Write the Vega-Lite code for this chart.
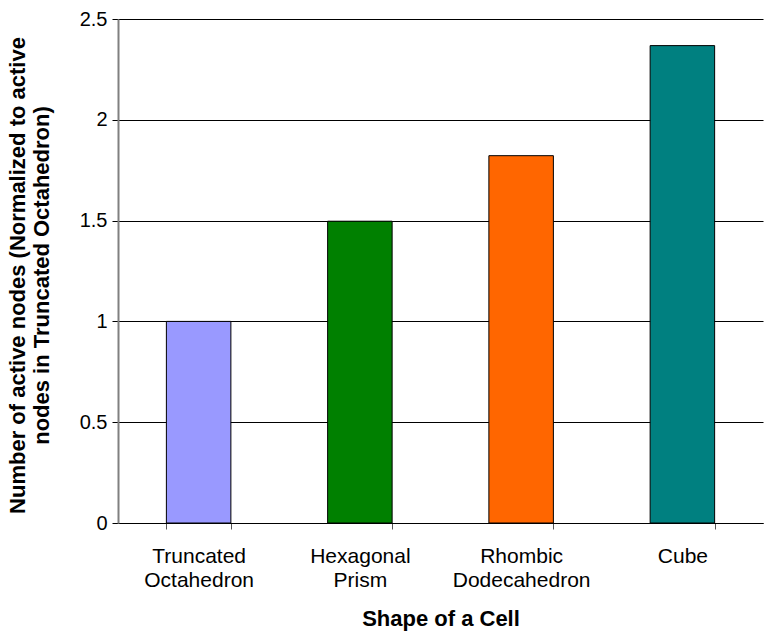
{
  "$schema": "https://vega.github.io/schema/vega-lite/v6.json",
  "width": 645,
  "height": 504,
  "autosize": "none",
  "padding": {"left": 118, "top": 19, "right": 4, "bottom": 115},
  "background": "white",
  "config": {"view": {"stroke": null}, "font": "Liberation Sans"},
  "data": {
    "values": [
      {"shape": "Truncated Octahedron", "value": 1.0, "color": "#9999FF"},
      {"shape": "Hexagonal Prism", "value": 1.497, "color": "#008000"},
      {"shape": "Rhombic Dodecahedron", "value": 1.822, "color": "#FF6600"},
      {"shape": "Cube", "value": 2.368, "color": "#008080"}
    ]
  },
  "mark": {"type": "bar", "stroke": "black", "strokeWidth": 1},
  "encoding": {
    "x": {
      "field": "shape",
      "type": "nominal",
      "sort": null,
      "scale": {"paddingInner": 0.6, "paddingOuter": 0.3},
      "axis": {
        "title": "Shape of a Cell",
        "titleFont": "Liberation Sans",
        "titleFontSize": 22,
        "titleFontWeight": "bold",
        "titleColor": "black",
        "titlePadding": 18,
        "labelAngle": 0,
        "labelExpr": "split(datum.label, ' ')",
        "labelFont": "Liberation Sans",
        "labelFontSize": 21,
        "labelColor": "black",
        "labelLineHeight": 24,
        "labelPadding": 16,
        "tickBand": "extent",
        "tickSize": 6,
        "tickColor": "#555555",
        "domainColor": "black",
        "grid": false
      }
    },
    "y": {
      "field": "value",
      "type": "quantitative",
      "scale": {"domain": [0, 2.5]},
      "axis": {
        "title": ["Number of active nodes (Normalized to  active", "nodes in Truncated Octahedron)"],
        "titleFont": "Liberation Sans",
        "titleFontSize": 22,
        "titleFontWeight": "bold",
        "titleColor": "black",
        "titleLineHeight": 24,
        "titleX": -101,
        "titleY": 256,
        "titleBaseline": "middle",
        "values": [0, 0.5, 1, 1.5, 2, 2.5],
        "format": "~g",
        "labelFont": "Liberation Sans",
        "labelFontSize": 20,
        "labelColor": "black",
        "labelPadding": 5,
        "tickSize": 6,
        "tickColor": "black",
        "domainColor": "#808080",
        "domainWidth": 2,
        "grid": true,
        "gridColor": "black",
        "gridWidth": 1
      }
    },
    "color": {"field": "color", "type": "nominal", "scale": null, "legend": null}
  }
}
